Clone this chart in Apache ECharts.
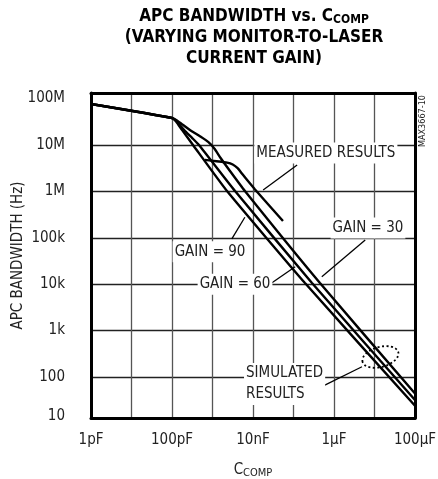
<!DOCTYPE html>
<html><head><meta charset="utf-8">
<script src="https://cdn.jsdelivr.net/npm/echarts@6/dist/echarts.min.js"></script>
<style>html,body{margin:0;padding:0;background:#fff}#c{width:438px;height:479px}</style>
</head><body><div id="c"></div>
<script>
const FONT = '"Liberation Sans Narrow","DejaVu Sans Condensed","Liberation Sans",sans-serif';

// x: C_COMP in pF, y: bandwidth in Hz
const xTickValues = [1, 100, 1e4, 1e6, 1e8];
const xTickLabels = ['1pF', '100pF', '10nF', '1\u00b5F', '100\u00b5F'];
const yTickValues = [10, 100, 1e3, 1e4, 1e5, 1e6, 1e7, 1e8];
const yTickLabels = ['10', '100', '1k', '10k', '100k', '1M', '10M', '100M'];

const gain90 = [[1,7.66e7],[100,3.82e7],[126,3.23e7],[178,2.09e7],[330,1e7],[2280,1.02e6],[1.92e5,1.06e4],[1e8,24]];
const gain60 = [[1,7.66e7],[100,3.82e7],[132,3.23e7],[200,2.09e7],[316,1.41e7],[464,1e7],[3600,1.02e6],[2.86e5,1.06e4],[1e8,32]];
const gain30 = [[1,7.66e7],[100,3.82e7],[158,3.02e7],[282,2.09e7],[501,1.52e7],[794,1.15e7],[1122,8.3e6],[1585,5.25e6],[2512,3.0e6],[6310,1.02e6],[4.5e5,1.06e4],[1e8,44]];
const measured = [[646,4.79e6],[1259,4.47e6],[2291,4.17e6],[3162,3.8e6],[4169,3.17e6],[5248,2.46e6],[6607,1.91e6],[11220,1.1e6],[54950,2.3e5]];

// annotation anchors (data coords)
const labels = [
  {text:'MEASURED RESULTS', at:[6.3e5,6.7e6], align:'center'},
  {text:'GAIN = 30', at:[6.9e6,1.62e5], align:'center'},
  {text:'GAIN = 90', at:[870,5.0e4], align:'center'},
  {text:'GAIN = 60', at:[3600,1e4], align:'center'},
  {text:'SIMULATED\nRESULTS', at:[6000,71], align:'left'}
];
const arrows = [
  [[1.23e5,3.7e6],[1.78e4,1.07e6]],
  [[5.9e6,9.0e4],[5.0e5,1.45e4]],
  [[3000,9.5e4],[6300,2.77e5]],
  [[26000,1e4],[1.1e5,2.38e4]],
  [[5.0e5,62],[4.9e6,166]]
];
const ellipseCenter = [1.4e7, 270];

function lbl(vals, labs) {
  return function (v) {
    const e = Math.round(Math.log10(v));
    for (let i = 0; i < vals.length; i++) if (Math.round(Math.log10(vals[i])) === e) {
      return i === 0 && vals === yTickValues ? '{low|' + labs[i] + '}' : labs[i];
    }
    return '';
  };
}

const chart = echarts.init(document.getElementById('c'), null, {renderer:'canvas'});
const lineStyle = {color:'#000', width:2.4};
const mk = (name, data, smooth) => ({
  name, type:'line', data, showSymbol:false, smooth:smooth, xAxisIndex:2, yAxisIndex:2,
  lineStyle, z:3, silent:true
});
const measuredSeries = mk('measured', measured, 0.25);
measuredSeries.markLine = {
  silent:true, symbol:['none','arrow'], symbolSize:[0,10],
  lineStyle:{color:'#000', width:1.3, type:'solid'}, label:{show:false},
  data: arrows.map(a => [{coord:a[0]},{coord:a[1]}]), z:5
};
const frameLine = {show:true, lineStyle:{color:'#000', width:3}};

chart.setOption({
  animation:false,
  grid:[
    {left:91, right:23, top:93, bottom:61, containLabel:false, outerBoundsMode:'none'},
    {left:91, right:23, top:98.6, bottom:55.6, containLabel:false, outerBoundsMode:'none'}
  ],
  xAxis:[{
    gridIndex:0, type:'log', logBase:10, min:1, max:1e8, position:'bottom',
    axisLine:frameLine, axisTick:{show:false},
    axisLabel:{formatter:lbl(xTickValues, xTickLabels), color:'#222', fontFamily:FONT, fontSize:15, margin:15},
    splitLine:{show:true, lineStyle:{color:'#555', width:1.3}},
    name:'{a|C}{b|COMP}', nameLocation:'middle', nameGap:44,
    nameTextStyle:{rich:{a:{fontFamily:FONT,fontSize:15,color:'#222'},b:{fontFamily:FONT,fontSize:11,color:'#222',verticalAlign:'top',padding:[6,0,0,0]}}}
  },{
    gridIndex:0, type:'log', logBase:10, min:1, max:1e8, position:'top',
    axisLine:frameLine, axisTick:{show:false}, axisLabel:{show:false}, splitLine:{show:false}
  },{
    gridIndex:1, type:'log', logBase:10, min:1, max:1e8, show:false
  }],
  yAxis:[{
    gridIndex:0, type:'log', logBase:10, min:10, max:1e8, position:'left',
    axisLine:frameLine, axisTick:{show:false}, axisLabel:{show:false}, splitLine:{show:false},
    name:'APC BANDWIDTH (Hz)', nameLocation:'middle', nameGap:65,
    nameTextStyle:{fontFamily:FONT, fontSize:15, color:'#222'}
  },{
    gridIndex:0, type:'log', logBase:10, min:10, max:1e8, position:'right',
    axisLine:frameLine, axisTick:{show:false}, axisLabel:{show:false}, splitLine:{show:false}
  },{
    gridIndex:1, type:'log', logBase:10, min:10, max:1e8, position:'left',
    axisLine:{show:false}, axisTick:{show:false},
    axisLabel:{formatter:lbl(yTickValues, yTickLabels), color:'#222', fontFamily:FONT, fontSize:15, margin:26,
      rich:{low:{fontFamily:FONT, fontSize:15, color:'#222', padding:[0,0,14,0]}}},
    splitLine:{show:true, showMinLine:false, showMaxLine:false, lineStyle:{color:'#222', width:1.3}}
  }],
  series:[mk('gain90', gain90, 0.15), mk('gain60', gain60, 0.15), mk('gain30', gain30, 0.2), measuredSeries]
});

const g = [];
g.push({
  type:'text', x:254, y:8, z:10,
  style:{
    text:'{a|APC BANDWIDTH vs. C}{b|COMP}\n{a|(VARYING MONITOR-TO-LASER}\n{a|CURRENT GAIN)}',
    align:'center', verticalAlign:'top',
    rich:{
      a:{fontFamily:FONT, fontWeight:'bold', fontSize:17, lineHeight:21, color:'#000', verticalAlign:'top'},
      b:{fontFamily:FONT, fontWeight:'bold', fontSize:12, lineHeight:21, color:'#000', verticalAlign:'top', padding:[6,0,0,0]}
    }
  }
});
g.push({type:'text', x:423, y:121, rotation:Math.PI/2, z:10,
  style:{text:'MAX3667-10', fontFamily:FONT, fontSize:9, fill:'#222', align:'center', verticalAlign:'middle'}});
labels.forEach(l => {
  const p = chart.convertToPixel({gridIndex:1}, l.at);
  g.push({type:'text', x:p[0], y:p[1], z:20,
    style:{text:l.text, fontFamily:FONT, fontSize:15, lineHeight:21, fill:'#222', align:l.align, verticalAlign:'middle',
      backgroundColor:'#fff', padding:[0,2]}});
});
const ec = chart.convertToPixel({gridIndex:1}, ellipseCenter);
g.push({type:'ellipse', x:ec[0], y:ec[1], rotation:0.27, z:20,
  shape:{cx:0, cy:0, rx:18.5, ry:10},
  style:{fill:null, stroke:'#000', lineWidth:1.8, lineDash:[2,2.5]}});
chart.setOption({graphic:g});
</script></body></html>
